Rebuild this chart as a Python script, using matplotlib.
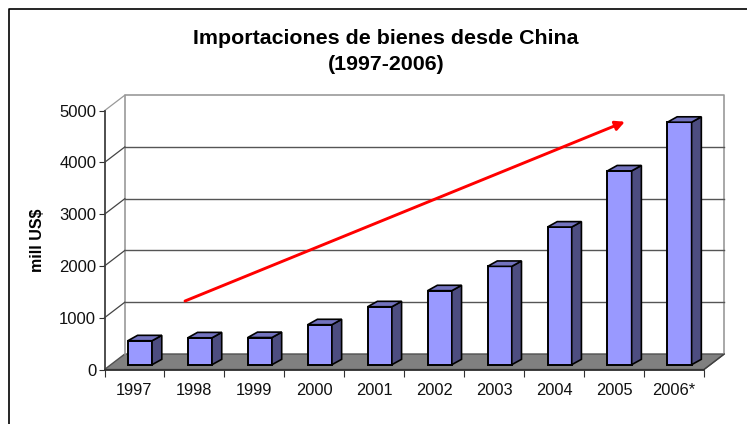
import matplotlib
matplotlib.use("Agg")
import matplotlib.pyplot as plt
from matplotlib.patches import Polygon

plt.rcParams['font.family'] = ['Liberation Sans', 'DejaVu Sans']

years = ['1997', '1998', '1999', '2000', '2001', '2002', '2003', '2004', '2005', '2006*']
valores = [463, 520, 525, 773, 1120, 1430, 1900, 2660, 3745, 4685]
marcas_y = [0, 1000, 2000, 3000, 4000, 5000]

# tamaño en pixeles de la zona del grafico
W, H = 747, 424
x0, y0, ancho, alto = 104.5, 369.5, 599.5, 258.8
px_x = 10 / ancho        # categorias por pixel
px_y = 5000 / alto       # valor por pixel

# profundidad del "3D" falso
prof_x, prof_y = 20.3 * px_x, 15.5 * px_y
bar_dx, bar_dy = 9.7 * px_x, 5.4 * px_y
base_y = 4.8 * px_y
corr_x = 5.5 * px_x
bar_w = 24.2 * px_x

fig = plt.figure(figsize=(W / 100, H / 100), dpi=100)
fig.patch.set_facecolor('white')
ax = fig.add_axes([x0 / W, (H - y0) / H, ancho / W, alto / H])
ax.set_xlim(0, 10)
ax.set_ylim(0, 5000)
ax.patch.set_visible(False)
for lado in ['top', 'right']:
    ax.spines[lado].set_visible(False)
ax.spines['left'].set_color('#404040')
ax.spines['left'].set_linewidth(1.3)
ax.spines['bottom'].set_color('#303030')
ax.spines['bottom'].set_linewidth(1.3)

# paredes y piso
ax.add_patch(Polygon([(0, 0), (prof_x, prof_y), (10 + prof_x, prof_y), (10, 0)],
                     closed=True, fc='#808080', ec='#505050', lw=1, clip_on=False, zorder=1))
ax.plot([prof_x, prof_x, 10 + prof_x, 10 + prof_x],
        [prof_y, 5000 + prof_y, 5000 + prof_y, prof_y],
        color='#999999', lw=1.2, clip_on=False, zorder=1)
ax.plot([10, 10 + prof_x], [0, prof_y], color='#404040', lw=0.9, clip_on=False, zorder=1)

for v in marcas_y[1:]:
    color = '#999999' if v == 5000 else '#444444'
    ax.plot([0, prof_x], [v, v + prof_y], color=color, lw=0.9, clip_on=False, zorder=1)
    if v < 5000:
        ax.plot([prof_x, 10 + prof_x], [v + prof_y, v + prof_y], color='#555555', lw=1,
                clip_on=False, zorder=1)

# barras
pos = [i + 0.5 + corr_x for i in range(len(valores))]
ax.bar(pos, valores, width=bar_w, bottom=base_y, color='#9999ff', edgecolor='black',
       linewidth=1.4, zorder=3, clip_on=False)
for xc, v in zip(pos, valores):
    der = xc + bar_w / 2
    izq = xc - bar_w / 2
    tope = base_y + v
    ax.add_patch(Polygon([(der, base_y), (der + bar_dx, base_y + bar_dy),
                          (der + bar_dx, tope + bar_dy), (der, tope)],
                         closed=True, fc='#4d4d80', ec='black', lw=1.2, clip_on=False, zorder=3))
    ax.add_patch(Polygon([(izq, tope), (izq + bar_dx, tope + bar_dy),
                          (der + bar_dx, tope + bar_dy), (der, tope)],
                         closed=True, fc='#7373bf', ec='black', lw=1.2, clip_on=False, zorder=3))

# flecha roja
ax.annotate('', xy=(8.68, 4787), xytext=(1.343, 1323), zorder=5, annotation_clip=False,
            arrowprops=dict(arrowstyle='-|>,head_length=0.55,head_width=0.28', color='#ff0000',
                            lw=2.1, shrinkA=0, shrinkB=0))

ax.set_xticks(range(0, 11))
ax.set_xticklabels([])
ax.set_xticks([i + 0.5 for i in range(10)], minor=True)
ax.set_xticklabels(years, minor=True, fontsize=11.8, color='#111111')
ax.tick_params(axis='x', which='major', length=5, width=0.8, direction='out', color='#303030')
ax.tick_params(axis='x', which='minor', length=0, pad=10)
ax.set_yticks(marcas_y)
ax.tick_params(axis='y', length=4, width=0.8, labelsize=12, pad=2, color='#303030', labelcolor='#111111')

fig.text(38 / W, 1 - 240 / H, 'mill US$', rotation=90, ha='center', va='center',
         fontsize=11.5, fontweight='bold')
fig.text(386 / W, 1 - 38 / H, 'Importaciones de bienes desde China', ha='center', va='center',
         fontsize=15.4, fontweight='bold')
fig.text(386 / W, 1 - 65 / H, '(1997-2006)', ha='center', va='center',
         fontsize=15.4, fontweight='bold')

# marco exterior (solo izquierda y arriba)
fig.add_artist(plt.Line2D([8.5 / W, 8.5 / W, 1], [0, 1 - 8.5 / H, 1 - 8.5 / H],
                          color='black', lw=1.2))

fig.savefig('out.png', dpi=100)
